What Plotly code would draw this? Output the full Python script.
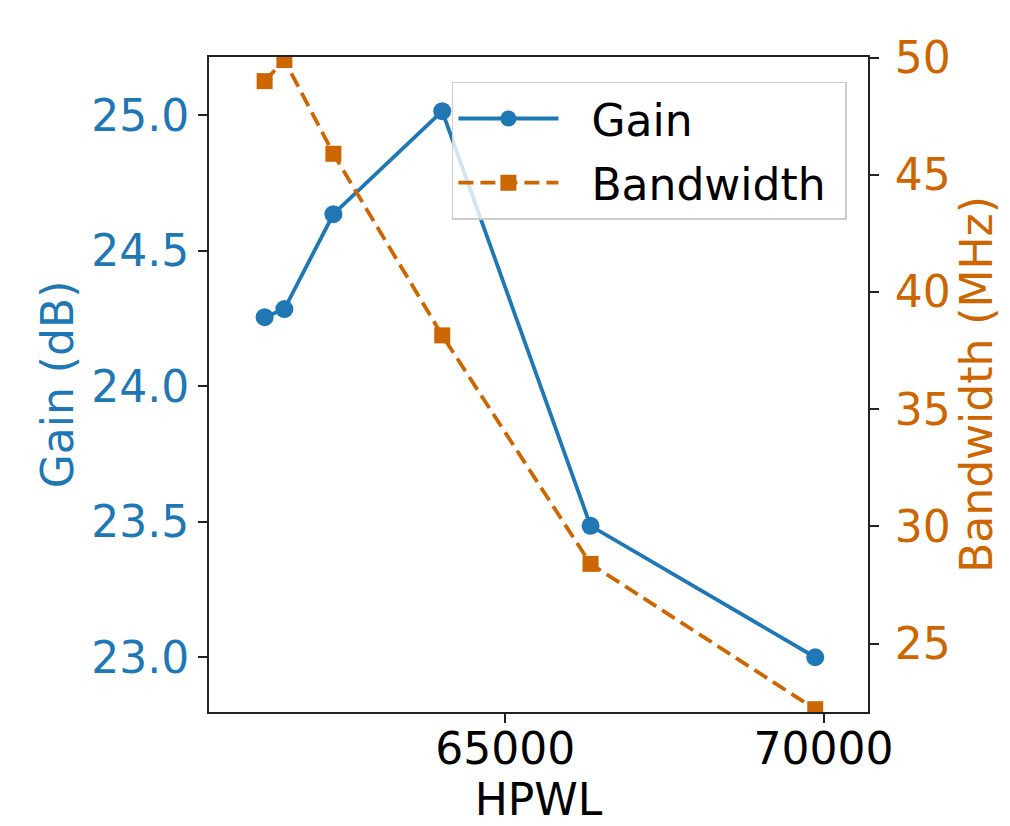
import plotly.graph_objects as go

# Data
hpwl = [61220, 61530, 62300, 64010, 66340, 69870]
gain_db = [24.255, 24.285, 24.635, 25.015, 23.485, 23.0]
bandwidth_mhz = [49.0, 49.9, 45.9, 38.15, 28.4, 22.2]

x_ticks = [65000, 70000]
gain_ticks = [23.0, 23.5, 24.0, 24.5, 25.0]
bw_ticks = [25, 30, 35, 40, 45, 50]

BLUE = "#1f77b4"
ORANGE = "#cc6600"
FONT = "DejaVu Sans"
FS = 44
NB = "\u00a0"

fig = go.Figure()
fig.add_trace(go.Scatter(
    x=hpwl, y=gain_db, name=NB * 2 + "Gain" + NB, mode="lines+markers",
    line=dict(color=BLUE, width=3.8),
    marker=dict(symbol="circle", size=18, color=BLUE),
    yaxis="y", legendgroup="g1",
))
fig.add_trace(go.Scatter(
    x=hpwl, y=bandwidth_mhz, name=NB * 2 + "Bandwidth" + NB, mode="lines+markers",
    line=dict(color=ORANGE, width=3.8, dash="15px,7px"),
    marker=dict(symbol="square", size=16, color=ORANGE),
    yaxis="y2", legendgroup="g2",
))

axis_common = dict(
    showline=True, linecolor="#222", linewidth=1.8,
    ticks="outside", ticklen=9, tickwidth=1.6, tickcolor="#222",
    showgrid=False, zeroline=False,
)

fig.update_layout(
    width=1010, height=826,
    margin=dict(l=209, r=142, t=57, b=114, autoexpand=False),
    paper_bgcolor="white", plot_bgcolor="white",
    font=dict(family=FONT, size=FS, color="black"),
    showlegend=True,
    legend=dict(
        x=0.968, xanchor="right", y=0.962, yanchor="top",
        bgcolor="rgba(255,255,255,0.8)", bordercolor="#cccccc", borderwidth=1.5,
        font=dict(family=FONT, size=FS, color="black"),
        itemwidth=100, tracegroupgap=4,
    ),
    xaxis=dict(
        **axis_common, mirror=True,
        range=[60346, 70699], tickvals=x_ticks, tickformat="d",
        tickfont=dict(size=FS, color="black"),
        ticklabelstandoff=-12,
        title=dict(text="HPWL", font=dict(size=FS, color="black"), standoff=0),
        automargin=False,
    ),
    yaxis=dict(
        **axis_common,
        range=[22.798, 25.215], tickvals=gain_ticks, tickformat=".1f",
        tickfont=dict(size=FS, color=BLUE),
        title=dict(text="Gain (dB)", font=dict(size=FS, color=BLUE), standoff=4),
        automargin=False,
    ),
    yaxis2=dict(
        **axis_common,
        overlaying="y", side="right",
        range=[22.08, 50.03], tickvals=bw_ticks, tickformat="d",
        tickfont=dict(size=FS, color=ORANGE),
        ticklabelstandoff=7,
        title=dict(text="Bandwidth (MHz)", font=dict(size=FS, color=ORANGE), standoff=10),
        automargin=False,
    ),
)

fig.write_html("out.html")
